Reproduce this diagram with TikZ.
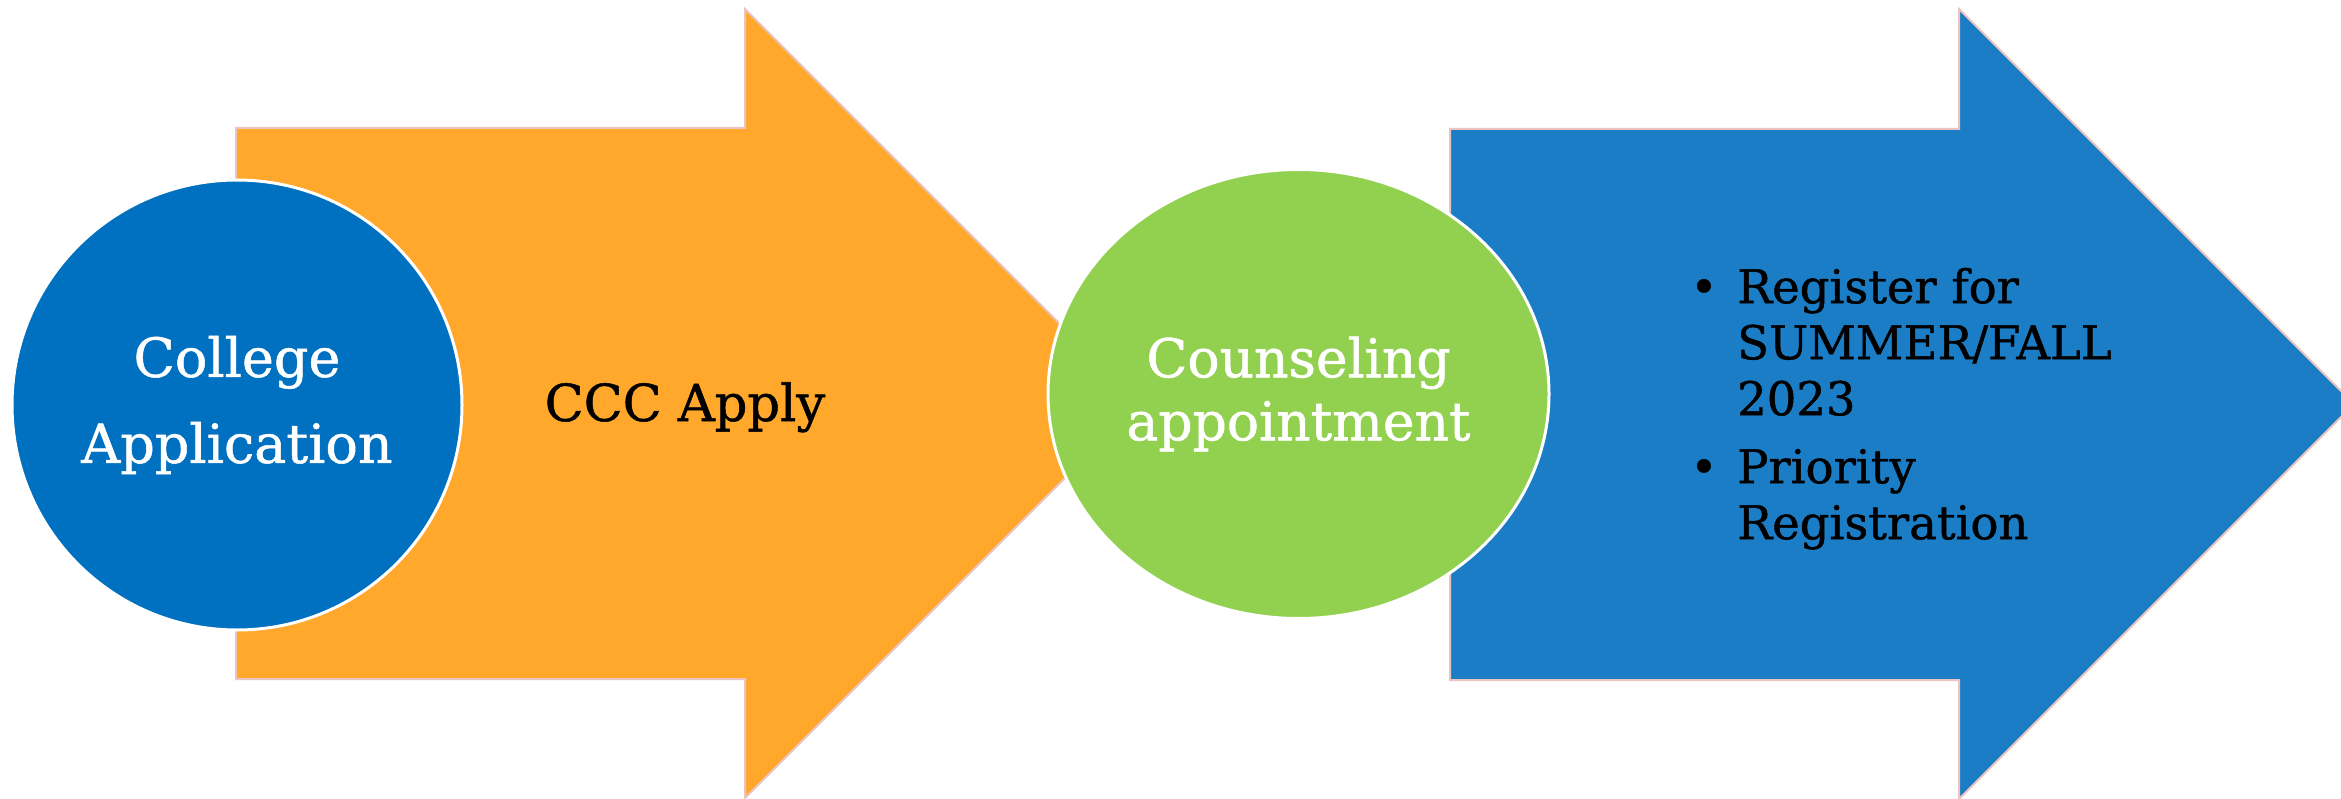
\documentclass[tikz,border=0pt]{standalone}
\usepackage{fontspec}
\setmainfont[FakeBold=1]{DejaVu Serif}
\usetikzlibrary{shapes.geometric}
\definecolor{appblue}{HTML}{0070C0}
\definecolor{arrorange}{HTML}{FFA82C}
\definecolor{cgreen}{HTML}{92D050}
\definecolor{arrblue}{HTML}{1B7DC6}
\definecolor{edgepink}{HTML}{EAC4C0}
\begin{document}
\begin{tikzpicture}[x=1pt,y=-1pt,
  blockarrow/.style={draw=edgepink,line width=2pt,line join=miter},
  bubble/.style={draw=white,line width=3pt,inner sep=0pt},
  whitetext/.style={text=white,align=center},
]
\useasboundingbox (0,0) rectangle (2341,799);
\clip (0,0) rectangle (2341,799);
\fill[white] (0,0) rectangle (2341,799);
\filldraw[blockarrow,fill=arrorange] (236,128) -- (745,128) -- (745,9) -- (1139.5,403.5) -- (745,798) -- (745,679) -- (236,679) -- cycle;
\filldraw[blockarrow,fill=arrblue] (1450,129) -- (1959,129) -- (1959,9) -- (2354,404) -- (1959,799) -- (1959,680) -- (1450,680) -- cycle;
\node[bubble,circle,fill=appblue,minimum size=450pt,whitetext,font=\fontsize{54}{86}\selectfont] (app) at (237,405) {College\\Application};
\node[bubble,ellipse,fill=cgreen,minimum width=501pt,minimum height=449pt] (ell) at (1298.5,394) {};
\node[whitetext,font=\fontsize{53.5}{63}\selectfont] (counsel) at (ell.center) {Counseling\\appointment};
\node[anchor=base,font=\fontsize{51}{56}\selectfont] (ccc) at (685,421) {CCC Apply};
\node[anchor=north west,inner sep=0pt,font=\fontsize{46.5}{56}\selectfont] (reg) at (1690,263.8) {\begin{tabular}{@{}l@{}l@{}}\makebox[47pt][l]{\textbullet}&Register for\\ &SUMMER/FALL\\ &2023\\[12pt] \makebox[47pt][l]{\textbullet}&Priority\\ &Registration\end{tabular}};
\end{tikzpicture}
\end{document}
